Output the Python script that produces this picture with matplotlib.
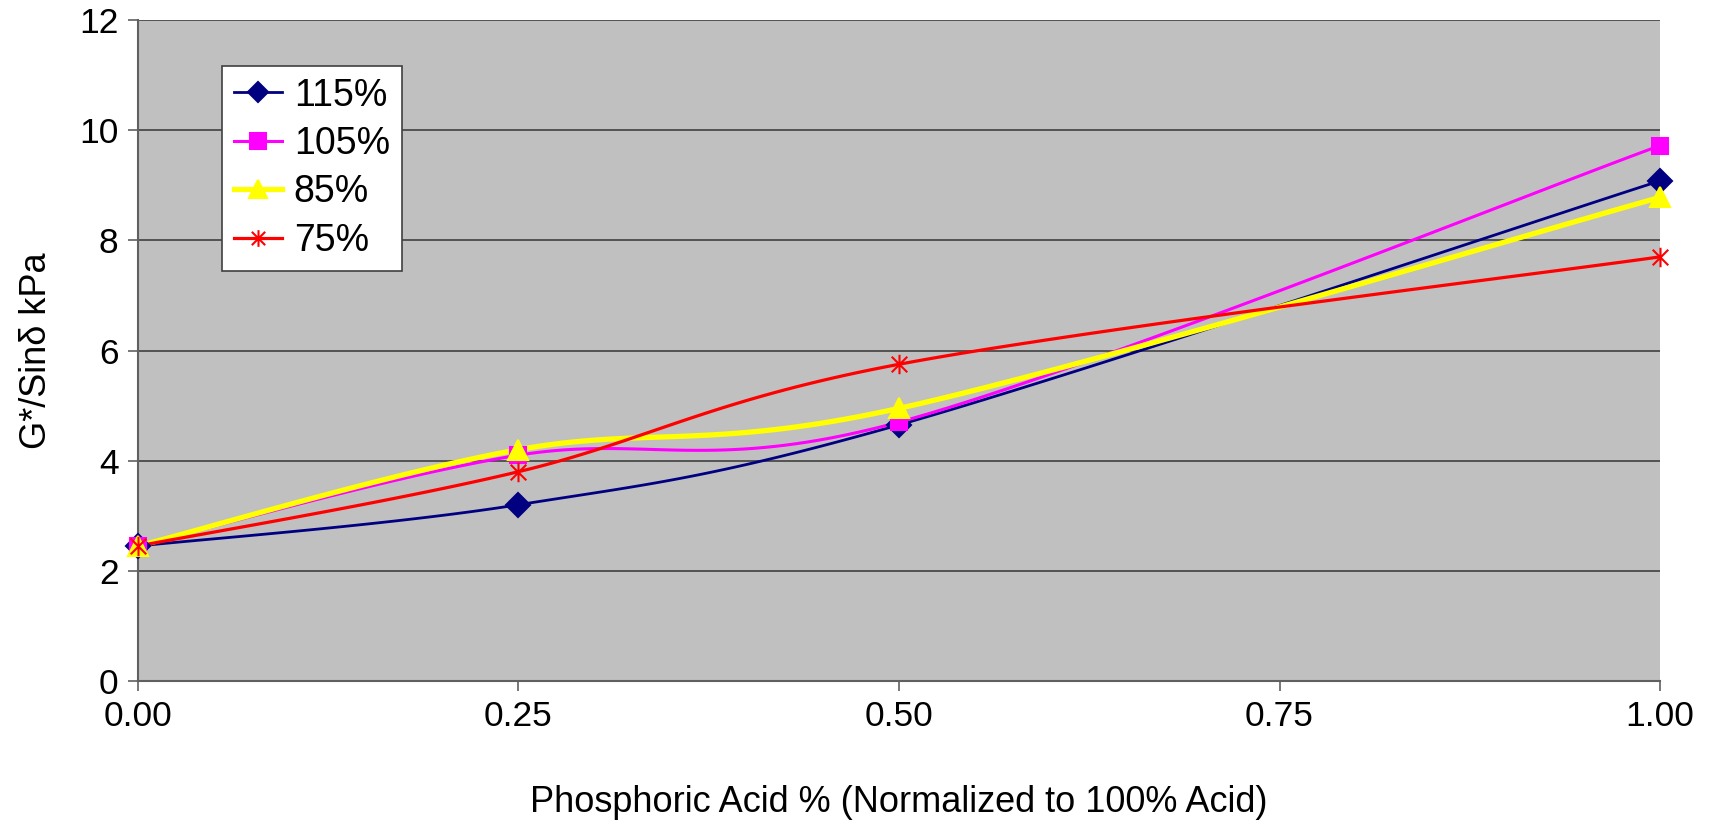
import numpy as np
import matplotlib
matplotlib.use('Agg')
import matplotlib.pyplot as plt
from matplotlib.path import Path

plt.rcParams['font.family'] = ['Liberation Sans', 'DejaVu Sans']

# Data
acid_fraction = [0.0, 0.25, 0.50, 1.00]
g_115 = [2.45, 3.20, 4.65, 9.08]
g_105 = [2.45, 4.10, 4.70, 9.72]
g_85 = [2.45, 4.20, 4.95, 8.78]
g_75 = [2.45, 3.80, 5.75, 7.70]
series_labels = ['115%', '105%', '85%', '75%']
x_ticks = [0.0, 0.25, 0.50, 0.75, 1.00]
y_ticks = [0, 2, 4, 6, 8, 10, 12]


def excel_smooth(xs, ys, n=40):
    # Catmull-Rom style bezier smoothing like Excel's "smoothed line"
    px = [xs[0]] + list(xs) + [xs[-1]]
    py = [ys[0]] + list(ys) + [ys[-1]]
    out_x, out_y = [], []
    t = np.linspace(0, 1, n)
    for i in range(1, len(px) - 2):
        p0 = np.array([px[i], py[i]])
        p3 = np.array([px[i + 1], py[i + 1]])
        c1 = p0 + (np.array([px[i + 1], py[i + 1]]) - np.array([px[i - 1], py[i - 1]])) / 6
        c2 = p3 - (np.array([px[i + 2], py[i + 2]]) - np.array([px[i], py[i]])) / 6
        b = ((1 - t) ** 3)[:, None] * p0 + (3 * (1 - t) ** 2 * t)[:, None] * c1 \
            + (3 * (1 - t) * t ** 2)[:, None] * c2 + (t ** 3)[:, None] * p3
        out_x.extend(b[:, 0])
        out_y.extend(b[:, 1])
    return out_x, out_y


star = Path([(0, -1), (0, 1), (-0.8, -0.8), (0.8, 0.8), (-0.8, 0.8), (0.8, -0.8)],
            [Path.MOVETO, Path.LINETO, Path.MOVETO, Path.LINETO, Path.MOVETO, Path.LINETO])

styles = [
    dict(color='#000080', lw=2.0, marker='D', ms=12, lms=10),
    dict(color='#FF00FF', lw=2.2, marker='s', ms=11, lms=11),
    dict(color='#FFFF00', lw=3.8, marker='^', ms=14, lms=13),
    dict(color='#FF0000', lw=2.3, marker=star, ms=14, lms=12),
]

fig = plt.figure(figsize=(17.16, 8.22), dpi=100)
ax = fig.add_axes([0.0804, 0.1715, 0.8870, 0.8042])
ax.set_facecolor('#C0C0C0')

for ys, label, st in zip([g_115, g_105, g_85, g_75], series_labels, styles):
    sx, sy = excel_smooth(acid_fraction, ys)
    ax.plot(sx, sy, color=st['color'], lw=st['lw'], zorder=3)
    ax.plot(acid_fraction, ys, ls='none', marker=st['marker'], ms=st['ms'],
            color=st['color'], mec=st['color'], mew=1.5, zorder=4, clip_on=False)

handles = [plt.Line2D([], [], color=st['color'], lw=st['lw'], marker=st['marker'],
                      ms=st['lms'], mec=st['color'], mew=1.5) for st in styles]

ax.set_xlim(0, 1)
ax.set_ylim(0, 12)
ax.set_xticks(x_ticks)
ax.set_xticklabels(['%.2f' % v for v in x_ticks])
ax.set_yticks(y_ticks)
ax.grid(axis='y', color='#404040', lw=1.2)
ax.set_axisbelow(True)
for side in ['top', 'right']:
    ax.spines[side].set_visible(False)
for side in ['left', 'bottom']:
    ax.spines[side].set_color('#606060')
    ax.spines[side].set_linewidth(1.5)
ax.tick_params(direction='out', length=7, width=1.2, color='#606060',
               labelsize=25.5, pad=7)

ax.set_xlabel('Phosphoric Acid % (Normalized to 100% Acid)', fontsize=26, labelpad=37)
ax.set_ylabel('G*/Sinδ kPa', fontsize=26, labelpad=18)

leg = ax.legend(handles, series_labels, loc='upper left', bbox_to_anchor=(0.055, 0.931),
                fontsize=27, frameon=True, fancybox=False, framealpha=1,
                edgecolor='#404040', handlelength=1.3, borderpad=0.32, labelspacing=0.33,
                handletextpad=0.3, borderaxespad=0)
leg.get_frame().set_linewidth(1.2)

fig.savefig('out.png', dpi=100)
